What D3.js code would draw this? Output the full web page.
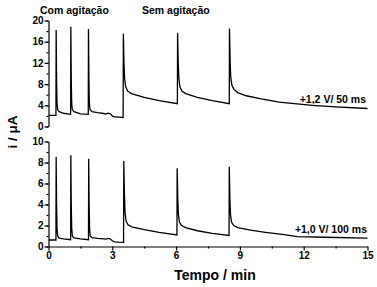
<!DOCTYPE html>
<html>
<head>
<meta charset="utf-8">
<script src="https://cdnjs.cloudflare.com/ajax/libs/d3/7.8.5/d3.min.js"></script>
<style>
  html, body { margin: 0; padding: 0; background: #fff; }
  svg { display: block; font-family: "Liberation Sans", Arial, sans-serif; }
</style>
</head>
<body>
<div id="chart"></div>
<script>
// time (min), current (uA)
const trace12 = [
  [0.02,2.1],[0.35,2.1],[0.36,18.2],[0.38,9],[0.40,4.5],[0.43,3.2],[0.5,2.8],[0.7,2.5],[1.04,2.3],
  [1.05,18.8],[1.07,9],[1.09,4.5],[1.12,3.2],[1.2,2.8],[1.5,2.4],[1.87,2.3],
  [1.88,18.4],[1.9,9],[1.92,4.6],[1.95,3.2],[2.05,2.8],[2.3,2.6],[2.6,2.45],[2.7,2.35],[2.8,2.5],[2.9,2.45],[3.0,2.0],[3.1,1.8],[3.3,1.75],[3.51,1.7],
  [3.52,17.5],[3.55,12],[3.58,9],[3.63,7.5],[3.72,6.7],[3.9,6.2],[4.5,5.5],[5.2,4.9],[6.06,4.3],
  [6.07,17.7],[6.1,12],[6.13,9],[6.18,7.5],[6.27,6.7],[6.45,6.2],[7,5.5],[7.7,4.9],[8.5,4.3],
  [8.51,18.5],[8.54,12.5],[8.57,9.3],[8.62,7.8],[8.72,7.0],[8.9,6.4],[9.3,5.8],[10,5.2],[10.85,4.6],[12.4,4.0],[13.5,3.7],[15,3.4]
];
const trace10 = [
  [0.02,0.62],[0.35,0.62],[0.36,8.55],[0.38,4],[0.40,1.8],[0.43,1.0],[0.5,0.8],[0.7,0.72],[1.04,0.65],
  [1.05,8.7],[1.07,4],[1.09,1.8],[1.12,1.0],[1.2,0.82],[1.5,0.72],[1.88,0.65],
  [1.89,8.35],[1.91,4],[1.93,1.8],[1.96,1.0],[2.05,0.85],[2.3,0.78],[2.6,0.72],[2.7,0.7],[2.8,0.78],[2.9,0.74],[3.0,0.55],[3.1,0.45],[3.3,0.42],[3.53,0.4],
  [3.54,8.15],[3.57,5],[3.6,3.2],[3.65,2.4],[3.75,2.05],[3.95,1.85],[4.5,1.6],[5.2,1.35],[6.04,1.1],
  [6.05,7.45],[6.08,4.5],[6.11,3],[6.16,2.3],[6.26,2.0],[6.45,1.8],[7,1.5],[7.7,1.25],[8.49,1.05],
  [8.5,7.6],[8.53,4.5],[8.56,3],[8.61,2.3],[8.71,2.0],[8.9,1.8],[9.5,1.55],[10.2,1.35],[11,1.15],[11.7,0.95],[13,0.88],[15,0.8]
];
const xTicks = [0, 3, 6, 9, 12, 15];
const topTicks = [0, 4, 8, 12, 16, 20];
const botTicks = [0, 2, 4, 6, 8, 10];
const labels = ["Com agitação", "Sem agitação", "+1,2 V/ 50 ms", "+1,0 V/ 100 ms"];

const width = 377, height = 287;
const svg = d3.select("#chart").append("svg")
  .attr("width", width).attr("height", height);

const x = d3.scaleLinear().domain([0, 15]).range([48.5, 367.5]);
const yTop = d3.scaleLinear().domain([0, 20]).range([126.5, 20.5]);
const yBot = d3.scaleLinear().domain([0, 10]).range([246.5, 141.5]);

function yAxis(scale, ticks, step) {
  const minor = d3.range(0, ticks[ticks.length - 1] + 0.001, step / 2);
  svg.append("g").attr("transform", "translate(48.5,0)")
    .call(d3.axisLeft(scale).tickValues(minor).tickSize(2).tickFormat(""))
    .call(g => g.select(".domain").remove());
  svg.append("g").attr("transform", "translate(48.5,0)")
    .call(d3.axisLeft(scale).tickValues(ticks).tickSize(4).tickSizeOuter(0).tickPadding(1).tickFormat(d3.format("d")))
    .call(g => g.selectAll("text").style("font-size", "10px").style("font-weight", "bold"));
}
yAxis(yTop, topTicks, 4);
yAxis(yBot, botTicks, 2);

svg.append("g").attr("transform", "translate(0,246.5)")
  .call(d3.axisBottom(x).tickValues(d3.range(1.5, 15, 3)).tickSize(2).tickFormat(""))
  .call(g => g.select(".domain").remove());
svg.append("g").attr("transform", "translate(0,246.5)")
  .call(d3.axisBottom(x).tickValues(xTicks).tickSize(4).tickSizeOuter(0).tickPadding(1))
  .call(g => g.selectAll("text").style("font-size", "10px").style("font-weight", "bold"));

svg.selectAll(".domain, .tick line").attr("stroke", "#000").attr("stroke-width", 1.2);

const lineTop = d3.line().x(d => x(d[0])).y(d => yTop(d[1]));
const lineBot = d3.line().x(d => x(d[0])).y(d => yBot(d[1]));
svg.append("path").attr("d", lineTop(trace12))
  .attr("fill", "none").attr("stroke", "#000").attr("stroke-width", 1.3);
svg.append("path").attr("d", lineBot(trace10))
  .attr("fill", "none").attr("stroke", "#000").attr("stroke-width", 1.3);

const bold = sel => sel.attr("font-weight", "bold").attr("fill", "#000");
svg.append("text").attr("x", 40).attr("y", 14).attr("font-size", 10.5).text(labels[0]).call(bold);
svg.append("text").attr("x", 142).attr("y", 14).attr("font-size", 10.5).text(labels[1]).call(bold);
svg.append("text").attr("x", 366).attr("y", 103).attr("text-anchor", "end").attr("font-size", 10.5).text(labels[2]).call(bold);
svg.append("text").attr("x", 367).attr("y", 233).attr("text-anchor", "end").attr("font-size", 10.5).text(labels[3]).call(bold);

svg.append("text").attr("x", 215).attr("y", 280).attr("text-anchor", "middle")
  .attr("font-size", 14).text("Tempo / min").call(bold);
svg.append("text").attr("transform", "translate(17,132) rotate(-90)").attr("text-anchor", "middle")
  .attr("font-size", 13.5).text("i / μA").call(bold);
</script>
</body>
</html>
